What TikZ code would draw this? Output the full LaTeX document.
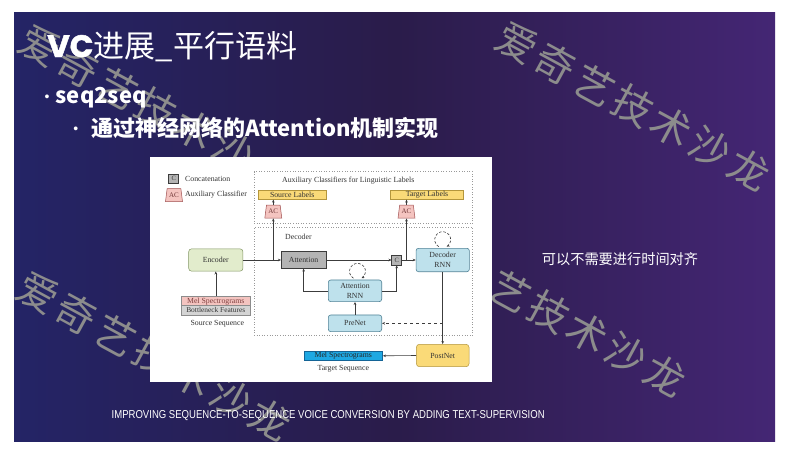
\documentclass[tikz,border=0pt]{standalone}
\usepackage{fontspec}
\setmainfont{Liberation Serif}
\newfontfamily\cjk{Noto Sans CJK SC}
\newfontfamily\popf{Poppins}
\newfontfamily\arialf{Liberation Sans}
\usetikzlibrary{arrows.meta,shapes.geometric,calc}
\definecolor{bgL}{RGB}{36,36,102}
\definecolor{bgM}{RGB}{42,28,74}
\definecolor{bgR}{RGB}{68,38,116}
\definecolor{wmgray}{RGB}{140,140,140}
\definecolor{lineC}{RGB}{60,60,60}
\definecolor{blueF}{RGB}{190,225,236}
\definecolor{blueD}{RGB}{80,130,150}
\definecolor{yelF}{RGB}{250,218,120}
\definecolor{yelD}{RGB}{180,150,60}
\definecolor{pinkF}{RGB}{244,196,192}
\definecolor{pinkD}{RGB}{160,80,80}
\definecolor{greenF}{RGB}{226,236,204}
\definecolor{greenD}{RGB}{130,150,100}
\definecolor{grayF}{RGB}{180,180,180}
\definecolor{cyanF}{RGB}{30,168,226}
\definecolor{cyanD}{RGB}{20,100,150}
\begin{document}
\begin{tikzpicture}[x=1pt,y=-1pt,
  wm/.style={text=wmgray, font=\cjk\fontsize{40}{40}\selectfont, rotate=-28.5, inner sep=0pt},
  wtxt/.style={text=white, inner sep=0pt},
  diag/.style={font=\fontsize{7.8}{9.5}\selectfont, text=black!80, inner sep=0pt, align=center},
  rbox/.style={diag, draw=blueD, fill=blueF, rounded corners=2.5pt, line width=0.6pt},
  sbox/.style={diag, line width=0.5pt},
  acshape/.style={trapezium, trapezium left angle=76, trapezium right angle=76, trapezium stretches=true,
     draw=pinkD, fill=pinkF, line width=0.5pt, minimum width=17pt, minimum height=13pt, inner sep=0pt,
     font=\fontsize{7}{7}\selectfont, text=pinkD!70!black},
  arr/.style={draw=lineC, line width=0.6pt, -{Stealth[length=3pt,width=2.6pt]}},
  loopst/.style={arr, dash pattern=on 2.5pt off 1.8pt},
  dotbox/.style={draw=black!40, dotted, line width=0.6pt, inner sep=0pt}
]
\useasboundingbox (0,0) rectangle (788,458);
\fill[white] (0,0) rectangle (788,458);
\shade[left color=bgL, right color=bgR, middle color=bgM] (14,12) rectangle (775,441.5);

% watermarks
\foreach \ch [count=\i from 0] in {爱,奇,艺,技,术,沙} {
  \node[wm] (wa\i) at ({40+38.7*\i},{46+21*\i}) {\ch};
}
\foreach \ch [count=\i from 0] in {爱,奇,艺,技,术,沙,龙} {
  \node[wm] (wb\i) at ({517+38.7*\i},{43+21*\i}) {\ch};
  \node[wm] (wc\i) at ({38+38.7*\i},{293+21*\i}) {\ch};
}
\foreach \ch [count=\i from 2] in {艺,技,术,沙,龙} {
  \node[wm] (wd\i) at ({433+38.7*\i},{249+21*\i}) {\ch};
}

% slide texts
\node[wtxt, anchor=base west, font=\popf\bfseries\addfontfeature{FakeBold=1.5}\fontsize{31}{31}\selectfont] (tvc) at (47,57) {VC};
\node[wtxt, anchor=base west, font=\cjk\fontsize{31}{31}\selectfont] (ttl) at (tvc.base east) {进展\_平行语料};
\node[wtxt, anchor=base west, font=\arialf\fontsize{14}{14}\selectfont] (bul1) at (44.5,101.5) {•};
\node[wtxt, anchor=base west, font=\cjk\bfseries\fontsize{22}{22}\selectfont] (seq) at (55.5,103.5) {seq2seq};
\node[wtxt, anchor=base west, font=\arialf\fontsize{14}{14}\selectfont] (bul2) at (73.2,133) {•};
\node[wtxt, anchor=base west, font=\cjk\bfseries\fontsize{22}{22}\selectfont] (sub) at (91,136.7) {通过神经网络的Attention机制实现};
\node[wtxt, font=\cjk\fontsize{14.2}{14.2}\selectfont] (note) at (620,259) {可以不需要进行时间对齐};
\node[wtxt, anchor=west] (ref) at (111.5,415.7) {\scalebox{0.83}[1]{\arialf\fontsize{11.5}{12}\selectfont IMPROVING SEQUENCE-TO-SEQUENCE VOICE CONVERSION BY ADDING TEXT-SUPERVISION}};

% diagram
\fill[white] (150,157) rectangle (492,382);
\node[sbox, draw=lineC, fill=grayF, minimum width=10pt, minimum height=9.3pt, font=\fontsize{6.5}{6.5}\selectfont] (legc) at (173.7,178.7) {C};
\node[diag, anchor=west] (legct) at (185,178.5) {Concatenation};
\node[acshape] (legac) at (174,195) {AC};
\node[diag, anchor=west] (legact) at (185,194.5) {Auxiliary Classifier};

\node[dotbox, minimum width=218.7pt, minimum height=51.6pt] (auxbox) at (363.35,197.5) {};
\node[diag, anchor=west] (auxtitle) at (282,180.5) {Auxiliary Classifiers for Linguistic Labels};
\node[dotbox, minimum width=218.7pt, minimum height=107.7pt] (decbox) at (363.35,281.15) {};
\node[diag, anchor=west] (dectitle) at (285,236.5) {Decoder};

\node[sbox, draw=yelD, fill=yelF, minimum width=67.7pt, minimum height=9.3pt] (srcl) at (292.2,194.7) {Source Labels};
\node[sbox, draw=yelD, fill=yelF, minimum width=72.6pt, minimum height=9.3pt] (tgtl) at (427,194.7) {Target Labels};
\node[acshape] (ac1) at (273.3,211.7) {AC};
\node[acshape] (ac2) at (406.5,211.7) {AC};

\node[sbox, draw=greenD, fill=greenF, rounded corners=3pt, minimum width=54.3pt, minimum height=22.4pt] (enc) at (215.8,260) {Encoder};
\node[sbox, draw=lineC, fill=grayF, minimum width=44.8pt, minimum height=16.6pt] (att) at (303.6,260) {Attention};
\node[sbox, draw=lineC, fill=grayF, minimum width=10pt, minimum height=10pt, font=\fontsize{6.5}{6.5}\selectfont] (cc) at (396.7,260) {C};
\node[rbox, minimum width=53.3pt, minimum height=23.4pt] (drnn) at (442.7,260) {Decoder\\RNN};
\node[rbox, minimum width=53.4pt, minimum height=21.7pt] (arnn) at (355,290.8) {Attention\\RNN};
\node[rbox, minimum width=53.4pt, minimum height=16.7pt] (pre) at (355,323.3) {PreNet};
\node[sbox, draw=yelD, fill=yelF, rounded corners=3pt, minimum width=52.6pt, minimum height=22.4pt] (post) at (442.7,355.5) {PostNet};
\node[sbox, draw=cyanD, fill=cyanF, minimum width=78.7pt, minimum height=8.3pt, text=black!85] (tmel) at (343.3,355.8) {Mel Spectrograms};
\node[diag] (tseq) at (343.3,368.5) {Target Sequence};
\node[sbox, draw=black!45, fill=pinkF, minimum width=68.3pt, minimum height=9pt, text=pinkD!80!black] (smel) at (215.8,301.2) {Mel Spectrograms};
\node[sbox, draw=black!45, fill=black!17, minimum width=68.3pt, minimum height=9.3pt, font=\fontsize{7.4}{7.4}\selectfont] (sbot) at (215.8,310.35) {Bottleneck Features};
\node[diag] (sseq) at (217.3,324) {Source Sequence};

% connectors
\coordinate (j1) at (ac1.south |- att.west);
\coordinate (j2) at (ac2.south |- cc.east);
\coordinate (j3) at (drnn.south |- pre.east);
\draw[arr] (enc.east) -- (att.west);
\draw[arr] (j1) -- (ac1.south);
\draw[arr] (ac1.north) -- (ac1.north |- srcl.south);
\draw[arr] (att.east) -- (cc.west);
\draw[arr] (cc.east) -- (drnn.west);
\draw[arr] (j2) -- (ac2.south);
\draw[arr] (ac2.north) -- (ac2.north |- tgtl.south);
\draw[arr] (arnn.east) -| (cc.south);
\draw[arr] (arnn.west) -| (att.south);
\draw[arr] (pre.north) -- (arnn.south);
\draw[arr] (drnn.south) -- (post.north);
\draw[arr, dashed] (j3) -- (pre.east);
\draw[arr] (post.west) -- (tmel.east);
\draw[arr] (smel.north) -- (enc.south);
\draw[loopst] ($(drnn.north)+(-4,-1.4)$) arc[start angle=120, end angle=420, radius=8];
\draw[loopst] ($(arnn.north)+(-1.5,-1.4)$) arc[start angle=120, end angle=420, radius=8];
\end{tikzpicture}
\end{document}
